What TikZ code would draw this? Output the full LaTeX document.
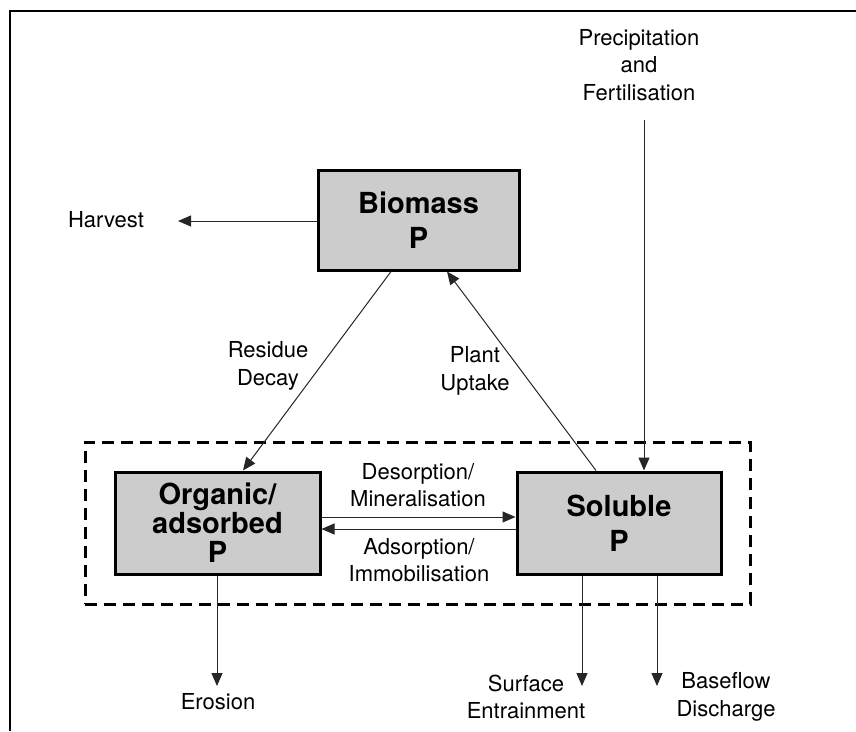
\documentclass[tikz,border=0pt]{standalone}
\usepackage{fontspec}
\setmainfont{TeX Gyre Heros}
\usetikzlibrary{arrows.meta}
\begin{document}
\begin{tikzpicture}[x=1pt,y=-1pt,
  lbl/.style={align=center,inner sep=0pt,font=\fontsize{22}{27.5}\selectfont},
  pool/.style={draw,line width=3pt,fill=black!20,inner sep=0pt,align=center,
               font=\bfseries\fontsize{29}{35}\selectfont},
  flow/.style={draw=black!85,line width=1pt,-{Triangle[length=13pt,width=11pt]}},
  link/.style={draw=black!85,line width=1pt}]
\useasboundingbox (0,0) rectangle (856,731);
% frame: top and left edges only
\draw[line width=2.5pt] (10,731) -- (10,11) -- (856,11);

% soil pool (dashed)
\node[draw,dashed,line width=3pt,dash pattern=on 12pt off 7pt,
      minimum width=665pt,minimum height=162pt] (soil) at (417.5,523) {};

% stores
\node[pool,minimum width=201pt,minimum height=100pt] (bio) at (418.5,220) {Biomass\\P};
\node[pool,minimum width=205pt,minimum height=102pt,
      font=\bfseries\fontsize{29}{29}\selectfont] (org) at (217.5,523) {Organic/\\adsorbed\\P};
\node[pool,minimum width=204pt,minimum height=102pt] (sol) at (619,523) {Soluble\\P};

% labels
\node[lbl] (harvest) at (106,220) {Harvest};
\node[lbl] (precip) at (639,65) {Precipitation\\and\\Fertilisation};
\node[lbl] (residue) at (268,366) {Residue\\Decay};
\node[lbl] (uptake) at (475,371) {Plant\\Uptake};
\node[lbl] (desorp) at (418,485) {Desorption/\\Mineralisation};
\node[lbl] (adsorp) at (419,560) {Adsorption/\\Immobilisation};
\node[lbl] (erosion) at (218,702) {Erosion};
\node[lbl] (surface) at (526,697) {Surface\\Entrainment};
\node[lbl] (baseflow) at (726,697) {Baseflow\\Discharge};

% free ends
\coordinate (harvestend) at (178,221);
\coordinate (precipstart) at (644,120);
\coordinate (erosionend) at (217,686);
\coordinate (surfaceend) at (582,686);
\coordinate (baseflowend) at (657,686);

% fluxes
\draw[flow] (bio.west |- harvestend) -- (harvestend);
\draw[flow] (precipstart) -- (precipstart |- sol.north);
\draw[flow] ([xshift=-27.5pt]bio.south) -- ([xshift=25.5pt]org.north);
\draw[flow] ([xshift=-23pt]sol.north) -- ([xshift=28.5pt]bio.south);
\draw[flow] ([yshift=6pt]org.east) -- ([yshift=6pt]sol.west);
\draw[flow] ([yshift=-6pt]sol.west) -- ([yshift=-6pt]org.east);
\draw[flow] (org.south -| erosionend) -- (erosionend);
\draw[flow] (sol.south -| surfaceend) -- (surfaceend);
\draw[flow] (sol.south -| baseflowend) -- (baseflowend);
\end{tikzpicture}
\end{document}
